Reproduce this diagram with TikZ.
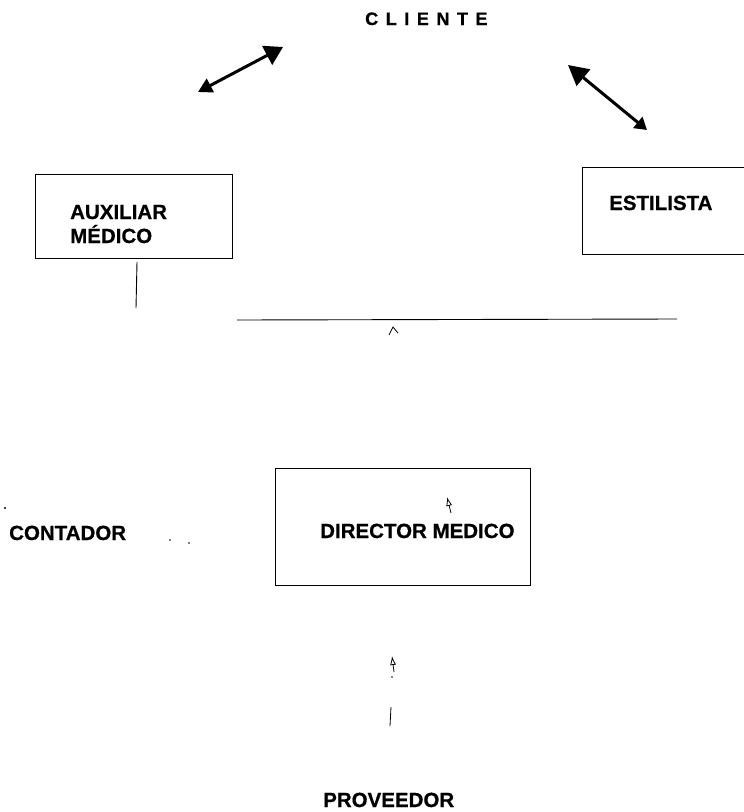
\documentclass[tikz,border=0pt]{standalone}
\usepackage{fontspec}
\setmainfont{Liberation Sans}
\usetikzlibrary{arrows.meta}
\begin{document}
\begin{tikzpicture}[x=1pt,y=-1pt,
  lbl/.style={font=\fontsize{20.5}{22}\selectfont\bfseries\addfontfeature{FakeBold=0.6}, inner sep=0pt, anchor=base west},
  frame/.style={line width=1pt},
  thin/.style={line width=0.9pt},
  bigarrow/.style={line width=3pt, line cap=round},
  smalltip/.style={line width=0.8pt, -{Latex[open,length=9pt,width=6pt]}}]
\useasboundingbox[fill=white] (0,0) rectangle (744,812);

% texts
\node[lbl, font=\fontsize{18}{20}\selectfont\bfseries\addfontfeature{LetterSpace=42,FakeBold=0.8}] (cliente) at (365,25) {CLIENTE};
\node[lbl] (aux1) at (70,219) {AUXILIAR};
\node[lbl] (aux2) at (70,243) {MÉDICO};
\node[lbl] (est) at (609,210) {ESTILISTA};
\node[lbl] (cont) at (9,540) {CONTADOR};
\node[lbl] (dir) at (320,538) {DIRECTOR MEDICO};
\node[lbl] (prov) at (323,807) {PROVEEDOR};

% boxes
\coordinate (auxNW) at (35,174);
\coordinate (auxSE) at (232,258);
\draw[frame] (auxNW) rectangle (auxSE);
\coordinate (estNW) at (582,167);
\coordinate (estNE) at (744,167);
\coordinate (estSW) at (582,254);
\coordinate (estSE) at (744,254);
\draw[frame] (estNE) -- (estNW) -- (estSW) -- (estSE);
\coordinate (dirNW) at (275,468);
\coordinate (dirSE) at (530,585);
\draw[frame] (dirNW) rectangle (dirSE);

% two-headed arrows toward CLIENTE
\coordinate (la1) at (198,92);
\coordinate (la2) at (283,47);
\draw[bigarrow, {Triangle[length=14pt,width=15pt]}-{Triangle[length=18pt,width=21pt]}] (la1) -- (la2);
\coordinate (ra1) at (647,130);
\coordinate (ra2) at (568,65);
\draw[bigarrow, {Triangle[length=12pt,width=14pt]}-{Triangle[length=20pt,width=21pt]}] (ra1) -- (ra2);

% line under AUXILIAR
\coordinate (auxl1) at (137,262);
\coordinate (auxl2) at (136,308);
\draw[thin] (auxl1) -- (auxl2);

% horizontal line with caret
\coordinate (h1) at (237,320);
\coordinate (h2) at (677,319);
\draw[thin] (h1) -- (h2);
\coordinate (c1) at (389,335);
\coordinate (c2) at (393,327);
\coordinate (c3) at (398,333);
\draw[line width=0.8pt] (c1) -- (c2) -- (c3);

% small marks near CONTADOR
\coordinate (d0) at (5,508);
\fill (d0) circle (1.2pt);
\coordinate (d1) at (170,540);
\fill (d1) circle (0.9pt);
\coordinate (d2) at (189,543);
\fill (d2) circle (0.9pt);

% small arrowhead inside DIRECTOR
\coordinate (da1) at (451,513);
\coordinate (da2) at (447,497);
\draw[smalltip] (da1) -- (da2);

% bottom arrow toward DIRECTOR
\coordinate (ba1) at (394,672);
\coordinate (ba2) at (392,656);
\draw[smalltip] (ba1) -- (ba2);
\coordinate (bd) at (392,677);
\fill (bd) circle (0.8pt);
\coordinate (bl1) at (391,707);
\coordinate (bl2) at (390,726);
\draw[line width=0.8pt] (bl1) -- (bl2);
\end{tikzpicture}
\end{document}
